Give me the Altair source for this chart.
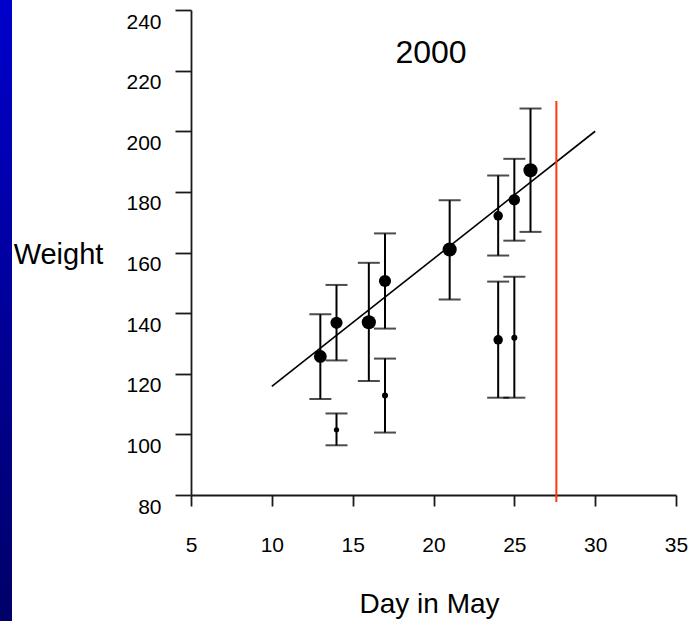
import altair as alt
import pandas as pd

# ---- data ----
days = [13, 14, 16, 17, 21, 24, 25, 26, 24, 25, 17, 14]
weight_mean = [125.7, 136.8, 137.0, 150.6, 161.0, 172.1, 177.4, 187.1, 131.2, 131.9, 112.8, 101.5]
weight_low = [111.7, 124.4, 117.6, 134.9, 144.5, 159.0, 163.9, 166.8, 112.1, 112.1, 100.6, 96.4]
weight_high = [139.6, 149.3, 156.6, 166.3, 177.2, 185.4, 190.9, 207.5, 150.4, 152.0, 125.0, 106.9]
sample_n = [40, 36, 49, 36, 49, 22, 32, 49, 22, 9, 9, 7]

fit_days = [10, 30]
fit_weights = [115.8, 200.0]

cutoff_day = [27.6]
cutoff_top = [210.0]
cutoff_bottom = [77.7]

x_ticks = [5, 10, 15, 20, 25, 30, 35]
y_ticks = [80, 100, 120, 140, 160, 180, 200, 220, 240]

chart_title = "2000"
x_title = "Day in May"
y_title = "Weight"

FONT = "Liberation Sans"

pts = pd.DataFrame({"day": days, "w": weight_mean, "lo": weight_low,
                    "hi": weight_high, "n": sample_n})
fit = pd.DataFrame({"day": fit_days, "w": fit_weights})
cut = pd.DataFrame({"day": cutoff_day, "top": cutoff_top, "bot": cutoff_bottom})
one = pd.DataFrame({"k": [0]})

xs = alt.Scale(domain=[5, 35], nice=False, zero=False)
ys = alt.Scale(domain=[80, 240], nice=False, zero=False)

xax = alt.Axis(values=x_ticks, tickSize=11, labelPadding=28, labelFontSize=21,
               labelFont=FONT, labelColor="black", domainColor="#1a1a1a",
               tickColor="#1a1a1a", domainWidth=1.8, tickWidth=1.8, grid=False,
               title=x_title, titleFont=FONT, titleFontSize=28,
               titleFontWeight="normal", titleColor="black", titleX=238,
               titleY=109, titleAlign="center", titleBaseline="middle",
               labelFlush=False)
yax = alt.Axis(values=y_ticks, tickSize=16, labelPadding=14, labelFontSize=21,
               labelFont=FONT, labelColor="black", domainColor="#1a1a1a",
               tickColor="#1a1a1a", domainWidth=1.8, tickWidth=1.8, grid=False,
               labelOffset=12, labelBaseline="middle",
               title=y_title, titleFont=FONT, titleFontSize=29,
               titleFontWeight="normal", titleColor="black", titleAngle=0,
               titleX=-133, titleY=244, titleAlign="center",
               titleBaseline="middle", labelFlush=False)

bar = alt.Chart(one).mark_rect(
    color=alt.Gradient(gradient="linear",
                       stops=[alt.GradientStop(color="#0000cc", offset=0),
                              alt.GradientStop(color="#000068", offset=1)],
                       x1=0, x2=0, y1=0, y2=1)
).encode(x=alt.value(-191), x2=alt.value(-179), y=alt.value(-10), y2=alt.value(611))

errs = alt.Chart(pts).mark_errorbar(
    ticks={"size": 22, "thickness": 2, "color": "black"},
    rule={"strokeWidth": 2, "color": "black"},
    color="black",
).encode(
    x=alt.X("day:Q", scale=xs, axis=xax),
    y=alt.Y("lo:Q", scale=ys, axis=yax),
    y2="hi:Q",
)

dots = alt.Chart(pts).mark_circle(color="black", opacity=1).encode(
    x=alt.X("day:Q", scale=xs, axis=xax),
    y=alt.Y("w:Q", scale=ys, axis=yax),
    size=alt.Size("n:Q", scale=alt.Scale(domain=[0, 50], range=[0, 205]), legend=None),
)

line = alt.Chart(fit).mark_line(color="black", strokeWidth=1.6).encode(
    x=alt.X("day:Q", scale=xs, axis=xax),
    y=alt.Y("w:Q", scale=ys, axis=yax),
)

red = alt.Chart(cut).mark_rule(color="#ff3a0a", strokeWidth=2).encode(
    x=alt.X("day:Q", scale=xs, axis=xax),
    y=alt.Y("bot:Q", scale=ys, axis=yax),
    y2="top:Q",
)

ttl = alt.Chart(one).mark_text(text=chart_title, font=FONT, fontSize=32,
                               align="center", baseline="middle", color="black"
).encode(x=alt.value(240), y=alt.value(43))

chart = alt.layer(bar, line, errs, dots, red, ttl).properties(
    width=485, height=485,
    autosize=alt.AutoSizeParams(type="none"),
    padding={"left": 191, "top": 10, "right": 12, "bottom": 126},
    background="white",
).configure_view(stroke=None)

chart.save("out.html", embed_options={"renderer": "svg", "actions": False})
